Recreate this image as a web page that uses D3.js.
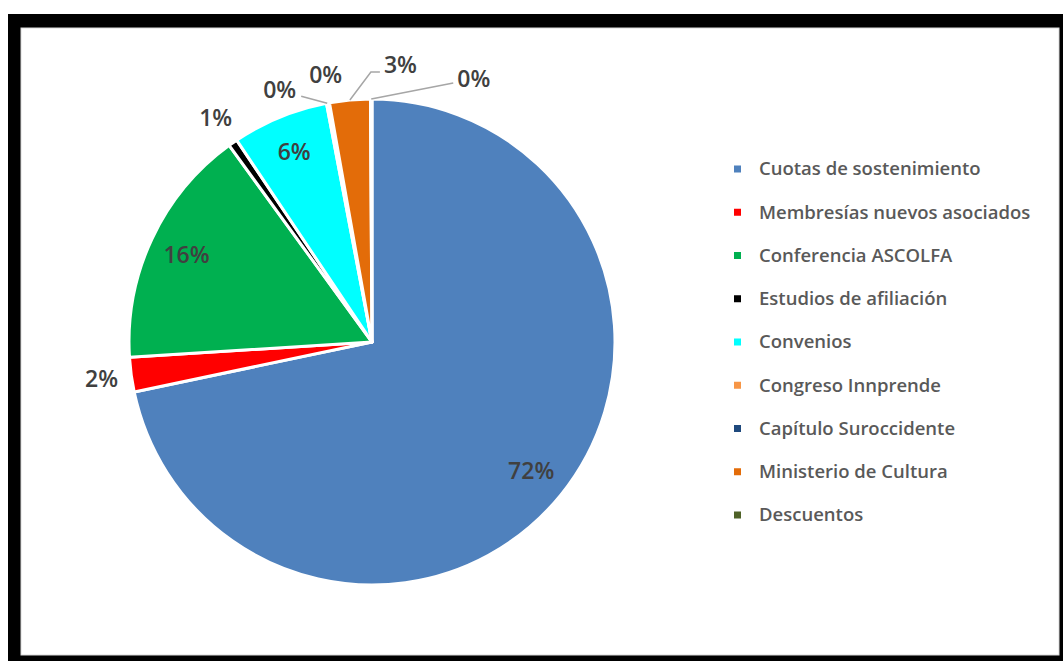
<!DOCTYPE html>
<html><head><meta charset="utf-8">
<script src="https://cdn.jsdelivr.net/npm/d3@7"></script>
<style>
html,body{margin:0;padding:0;background:#fff;overflow:hidden}
svg{display:block}
</style></head>
<body>
<svg id="chart" width="1063" height="661"></svg>
<script>
// ---- data ----
const categories = ["Cuotas de sostenimiento","Membresías nuevos asociados","Conferencia ASCOLFA","Estudios de afiliación","Convenios","Congreso Innprende","Capítulo Suroccidente","Ministerio de Cultura","Descuentos"];
const values = [71.7, 2.3, 16.0, 0.6, 6.4, 0.1, 0.1, 2.7, 0.1];
const colors = ["#4F81BD","#FF0000","#00B050","#000000","#00FFFF","#F79646","#1F497D","#E36C09","#4F6228"];
// label placement: in = inside, out = outside, leader = with leader line, plain = outside no line
const labelMode = ["in","out","in","out","in","leader","plain","leader","leader"];
// offsets relative to the outer arc point at slice mid-angle
const labelOffsets = [
  null, null, null, null, null,
  {t:[-31,-5],a:"end",l:[[-26,-7]]},
  {t:[-3,-20],a:"middle",l:[]},
  {t:[34,-27],a:"start",l:[[21,-28],[30,-28]]},
  {t:[86,-12],a:"start",l:[[82,-16]]}
];

const svg = d3.select("#chart");
const W = 1063, H = 661;

// frame
svg.append("rect").attr("x",0).attr("y",0).attr("width",W).attr("height",H).attr("fill","#fff");
svg.append("rect").attr("x",8).attr("y",14).attr("width",W+20).attr("height",H).attr("fill","#000");
svg.append("rect").attr("x",21).attr("y",28).attr("width",1038).attr("height",627).attr("fill","#fff").attr("stroke","#d9d9d9").attr("stroke-width",1);

const cx = 372, cy = 342, R = 243;
const g = svg.append("g").attr("transform",`translate(${cx},${cy})`);

const pie = d3.pie().sort(null).value(d=>d).startAngle(0).endAngle(2*Math.PI);
const arcs = pie(values);
const arc = d3.arc().innerRadius(0).outerRadius(R);

g.selectAll("path.slice").data(arcs).join("path")
  .attr("class","slice")
  .attr("d",arc)
  .attr("fill",(d,i)=>colors[i])
  .attr("stroke","#fff").attr("stroke-width",3).attr("stroke-linejoin","round");

const fmt = v => Math.round(v) + "%";
const labelFont = "'Open Sans', Lato, sans-serif";
const pt = (a,r)=>[r*Math.sin(a), -r*Math.cos(a)];
const LFS = 23;

arcs.forEach((d,i)=>{
  const mid = (d.startAngle+d.endAngle)/2;
  const mode = labelMode[i];
  if(mode==="in" || mode==="out"){
    const r = mode==="in" ? 205 : 273;
    const [x,y] = pt(mid,r);
    g.append("text").attr("x",x).attr("y",y).attr("dy","0.35em")
      .attr("text-anchor","middle")
      .attr("font-family",labelFont).attr("font-weight",600).attr("font-size",LFS)
      .attr("fill","#404040").text(fmt(values[i]));
  } else {
    const o = labelOffsets[i];
    const [ax,ay] = pt(mid,R);
    if(o.l.length){
      const pts = [[ax,ay]].concat(o.l.map(p=>[ax+p[0],ay+p[1]]));
      g.append("path").attr("d",d3.line()(pts)).attr("fill","none")
        .attr("stroke","#a6a6a6").attr("stroke-width",1.5);
    }
    g.append("text").attr("x",ax+o.t[0]).attr("y",ay+o.t[1])
      .attr("text-anchor",o.a)
      .attr("font-family",labelFont).attr("font-weight",600).attr("font-size",LFS)
      .attr("fill","#404040").text(fmt(values[i]));
  }
});

// legend
const ly = d3.scalePoint().domain(categories).range([169,515]);
const leg = svg.append("g");
categories.forEach((c,i)=>{
  const y = ly(c);
  leg.append("rect").attr("x",734).attr("y",y-3.5).attr("width",7).attr("height",7).attr("fill",colors[i]);
  leg.append("text").attr("x",759).attr("y",y).attr("dy","0.35em")
    .attr("font-family",labelFont).attr("font-weight",600).attr("font-size",18.5)
    .attr("fill","#595959").text(c);
});
</script>
</body></html>
